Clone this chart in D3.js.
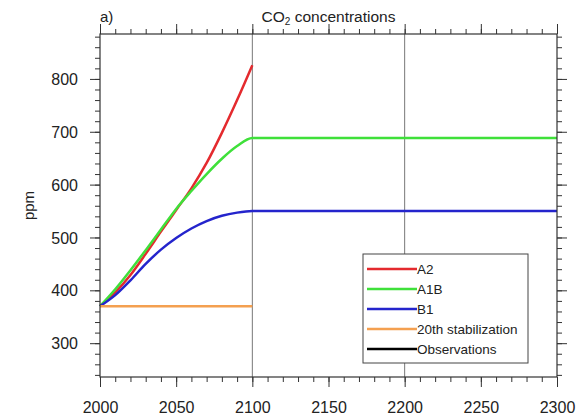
<!DOCTYPE html>
<html>
<head>
<meta charset="utf-8">
<script src="https://cdn.jsdelivr.net/npm/d3@7"></script>
<style>
  body { margin: 0; background: #fff; }
  text { font-family: "Liberation Sans", Arial, Helvetica, sans-serif; fill: #222; }
</style>
</head>
<body>
<svg id="chart" width="585" height="419"></svg>
<script>
// values (ppm)
const years = [2000, 2010, 2020, 2030, 2040, 2050, 2060, 2070, 2080, 2090, 2100, 2150, 2200, 2250, 2300];
const a2   = [370, 396, 429, 469, 511, 552, 593, 641, 698, 760, 826];
const a1b  = [370, 402, 438, 476, 515, 554, 588, 620, 649, 673, 688, 688, 688, 688, 688];
const b1   = [370, 391, 419, 450, 477, 499, 517, 531, 541, 547, 550, 550, 550, 550, 550];
const stab = [370, 370, 370, 370, 370, 370, 370, 370, 370, 370, 370];
const obs  = [];

const xTicks = [2000, 2050, 2100, 2150, 2200, 2250, 2300];
const yTicks = [300, 400, 500, 600, 700, 800];
const gridYears = [2100, 2200];

const seriesNames  = ['A2', 'A1B', 'B1', '20th stabilization', 'Observations'];
const seriesValues = [a2, a1b, b1, stab, obs];
const seriesColors = ['#e42a2e', '#3fe03a', '#2424cc', '#f4a050', '#000000'];

const svg = d3.select('#chart');
const pL = 100, pR = 557, pT = 34, pB = 377;

const x = d3.scaleLinear().domain([2000, 2300]).range([pL, pR]);
const y = d3.scaleLinear().domain([236, 885]).range([pB, pT]);

// vertical reference lines
svg.selectAll('.grid')
  .data(gridYears)
  .enter().append('line')
    .attr('x1', d => x(d)).attr('x2', d => x(d))
    .attr('y1', pT).attr('y2', pB)
    .attr('stroke', '#777').attr('stroke-width', 1);

// data lines
const line = d3.line()
  .curve(d3.curveMonotoneX)
  .x((d, i) => x(years[i]))
  .y(d => y(d));

seriesValues.forEach((vals, k) => {
  if (!vals.length) return;
  svg.append('path')
    .datum(vals)
    .attr('fill', 'none')
    .attr('stroke', seriesColors[k])
    .attr('stroke-width', 2.5)
    .attr('d', line);
});

// axes (ticks outward on all four sides)
const xMinor = d3.range(2000, 2301, 10);
const yMinor = d3.range(240, 885, 20);

function drawAxis(axisFn, scale, ticks, len, pos, labels) {
  const g = svg.append('g').attr('transform', pos);
  g.call(axisFn(scale).tickValues(ticks).tickSize(len)
      .tickFormat(labels ? d3.format('d') : ''));
  g.select('.domain').remove();
  g.selectAll('line').attr('stroke', '#333').attr('stroke-width', 1);
  return g;
}

[['bottom', pB], ['top', pT]].forEach(([side, yy]) => {
  const fn = side === 'bottom' ? d3.axisBottom : d3.axisTop;
  drawAxis(fn, x, xMinor, 5, `translate(0,${yy})`, false);
  const g = drawAxis(fn, x, xTicks, 10, `translate(0,${yy})`, side === 'bottom');
  if (side === 'bottom') {
    g.selectAll('text').attr('font-size', 16).attr('dy', 0).attr('y', 36)
      .style('fill', '#222');
  }
});

[['left', pL], ['right', pR]].forEach(([side, xx]) => {
  const fn = side === 'left' ? d3.axisLeft : d3.axisRight;
  drawAxis(fn, y, yMinor, 5, `translate(${xx},0)`, false);
  const g = drawAxis(fn, y, yTicks, 10, `translate(${xx},0)`, side === 'left');
  if (side === 'left') {
    g.selectAll('text').attr('font-size', 16).attr('x', -22).attr('dy', '0.35em')
      .style('fill', '#222');
  }
});

// frame
svg.append('rect')
  .attr('x', pL).attr('y', pT)
  .attr('width', pR - pL).attr('height', pB - pT)
  .attr('fill', 'none').attr('stroke', '#333').attr('stroke-width', 1.2);

// titles
svg.append('text').attr('x', pL).attr('y', 22).attr('font-size', 15).text('a)');

const title = svg.append('text')
  .attr('x', (pL + pR) / 2).attr('y', 22)
  .attr('text-anchor', 'middle').attr('font-size', 15.5);
title.append('tspan').text('CO');
title.append('tspan').attr('font-size', 10).attr('dy', 3).text('2');
title.append('tspan').attr('dy', -3).text(' concentrations');

svg.append('text')
  .attr('transform', `translate(34,${(pT + pB) / 2}) rotate(-90)`)
  .attr('text-anchor', 'middle').attr('font-size', 15).text('ppm');

// legend
const lg = svg.append('g').attr('transform', 'translate(363,254)');
lg.append('rect')
  .attr('width', 165).attr('height', 109)
  .attr('fill', '#fff').attr('stroke', '#444').attr('stroke-width', 1);

const rows = lg.selectAll('.row')
  .data(seriesNames)
  .enter().append('g')
    .attr('transform', (d, i) => `translate(0,${15 + i * 20})`);

rows.append('line')
  .attr('x1', 4).attr('x2', 54)
  .attr('stroke', (d, i) => seriesColors[i])
  .attr('stroke-width', 2.5);

rows.append('text')
  .attr('x', 54).attr('dy', '0.36em')
  .attr('font-size', 13.5)
  .text(d => d);
</script>
</body>
</html>
